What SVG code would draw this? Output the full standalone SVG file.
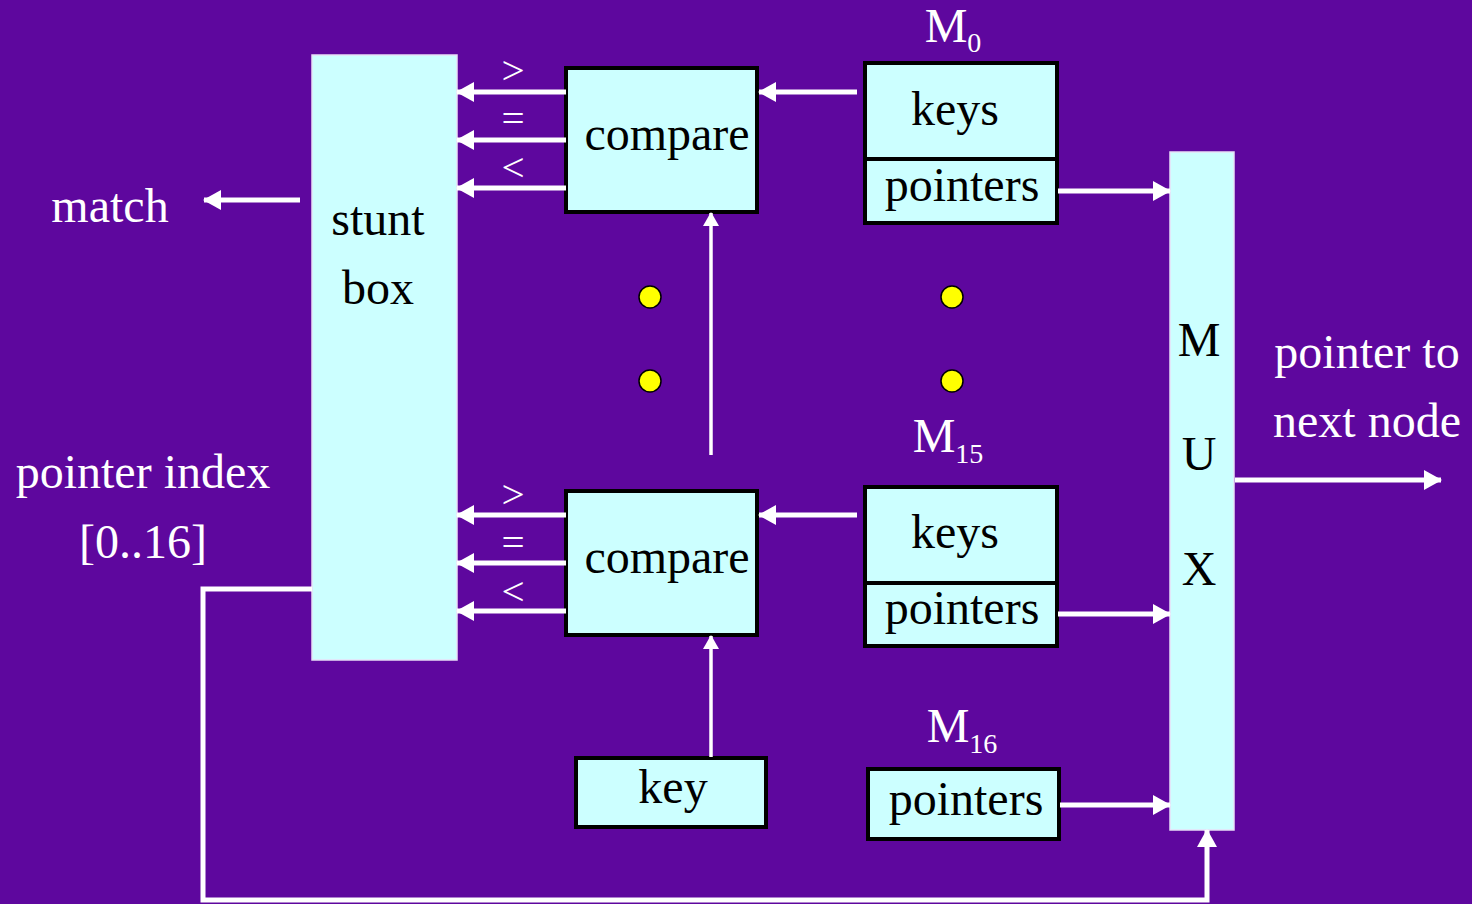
<svg xmlns="http://www.w3.org/2000/svg" width="1472" height="904" viewBox="0 0 1472 904">
<defs>
<marker id="ah" viewBox="0 0 18 20" refX="17" refY="10" markerWidth="18" markerHeight="20" markerUnits="userSpaceOnUse" orient="auto">
<path d="M0,0 L18,10 L0,20 Z" fill="#fff"/>
</marker>
<marker id="ahs" viewBox="0 0 14 16" refX="13" refY="8" markerWidth="14" markerHeight="16" markerUnits="userSpaceOnUse" orient="auto">
<path d="M0,0 L14,8 L0,16 Z" fill="#fff"/>
</marker>
<style>
.bg{fill:#5E079E}
.box{fill:#CCFFFF;stroke:#000;stroke-width:4}
.pale{fill:#CCFFFF;stroke:#E8E0F8;stroke-width:1.5}
.t{font-family:"Liberation Serif","Times New Roman",serif;font-size:48px;fill:#000;text-anchor:middle}
.w{font-family:"Liberation Serif","Times New Roman",serif;font-size:48px;fill:#fff;text-anchor:middle}
.s{font-family:"Liberation Serif","Times New Roman",serif;font-size:41px;fill:#fff;text-anchor:middle}
.c{fill:none;stroke:#fff;stroke-width:5}
.v{fill:none;stroke:#fff;stroke-width:3.5}
.dot{fill:#FFFF00;stroke:#000;stroke-width:1.5}
</style>
</defs>
<rect class="bg" x="0" y="0" width="1472" height="904"/>

<g id="stunt-box">
<rect class="pale" x="312" y="55" width="145" height="605"/>
<text class="t" x="378" y="235">stunt</text>
<text class="t" x="378" y="304">box</text>
</g>
<g id="compare-top">
<rect class="box" x="566" y="68" width="191" height="144"/>
<text class="t" x="667" y="150">compare</text>
</g>
<g id="compare-bottom">
<rect class="box" x="566" y="491" width="191" height="144"/>
<text class="t" x="667" y="573">compare</text>
</g>
<g id="m0">
<rect class="box" x="865" y="63" width="192" height="96"/>
<rect class="box" x="865" y="159" width="192" height="64"/>
<text class="t" x="955" y="125">keys</text>
<text class="t" x="962" y="201">pointers</text>
<text class="w" x="953" y="42">M<tspan font-size="28" dy="10">0</tspan></text>
</g>
<g id="m15">
<rect class="box" x="865" y="487" width="192" height="96"/>
<rect class="box" x="865" y="583" width="192" height="63"/>
<text class="t" x="955" y="548">keys</text>
<text class="t" x="962" y="624">pointers</text>
<text class="w" x="948" y="452">M<tspan font-size="28" dy="11">15</tspan></text>
</g>
<g id="m16">
<rect class="box" x="868" y="769" width="191" height="70"/>
<text class="t" x="966" y="815">pointers</text>
<text class="w" x="962" y="742">M<tspan font-size="28" dy="11">16</tspan></text>
</g>
<g id="key">
<rect class="box" x="576" y="758" width="190" height="69"/>
<text class="t" x="673" y="803">key</text>
</g>
<g id="mux">
<rect class="pale" x="1170" y="152" width="64" height="678"/>
<text class="t" x="1199" y="356">M</text>
<text class="t" x="1199" y="470">U</text>
<text class="t" x="1199" y="585">X</text>
</g>
<g id="labels">
<text class="w" x="110" y="222">match</text>
<text class="w" x="143" y="488">pointer index</text>
<text class="w" x="143" y="558">[0..16]</text>
<text class="w" x="1367" y="368">pointer to</text>
<text class="w" x="1367" y="437">next node</text>
<text class="s" x="513" y="84">&gt;</text>
<text class="s" x="513" y="132">=</text>
<text class="s" x="513" y="181">&lt;</text>
<text class="s" x="513" y="508">&gt;</text>
<text class="s" x="513" y="556">=</text>
<text class="s" x="513" y="605">&lt;</text>
</g>
<g id="dots">
<circle class="dot" cx="650" cy="297" r="11"/>
<circle class="dot" cx="650" cy="381" r="11"/>
<circle class="dot" cx="952" cy="297" r="11"/>
<circle class="dot" cx="952" cy="381" r="11"/>
</g>
<g id="connectors">
<line class="c" x1="566" y1="92" x2="457" y2="92" marker-end="url(#ah)"/>
<line class="c" x1="566" y1="140" x2="457" y2="140" marker-end="url(#ah)"/>
<line class="c" x1="566" y1="188" x2="457" y2="188" marker-end="url(#ah)"/>
<line class="c" x1="566" y1="515" x2="457" y2="515" marker-end="url(#ah)"/>
<line class="c" x1="566" y1="563" x2="457" y2="563" marker-end="url(#ah)"/>
<line class="c" x1="566" y1="611" x2="457" y2="611" marker-end="url(#ah)"/>
<line class="c" x1="857" y1="92" x2="759" y2="92" marker-end="url(#ah)"/>
<line class="c" x1="857" y1="515" x2="759" y2="515" marker-end="url(#ah)"/>
<line class="c" x1="1058" y1="191" x2="1170" y2="191" marker-end="url(#ah)"/>
<line class="c" x1="1058" y1="614" x2="1170" y2="614" marker-end="url(#ah)"/>
<line class="c" x1="1060" y1="805" x2="1170" y2="805" marker-end="url(#ah)"/>
<line class="v" x1="711" y1="455" x2="711" y2="213" marker-end="url(#ahs)"/>
<line class="v" x1="711" y1="757" x2="711" y2="636" marker-end="url(#ahs)"/>
<line class="c" x1="1235" y1="480" x2="1441" y2="480" marker-end="url(#ah)"/>
<line class="c" x1="300" y1="200" x2="204" y2="200" marker-end="url(#ah)"/>
<polyline class="c" points="312,589 203,589 203,900 1207,900 1207,830" marker-end="url(#ah)"/>
</g>
</svg>
